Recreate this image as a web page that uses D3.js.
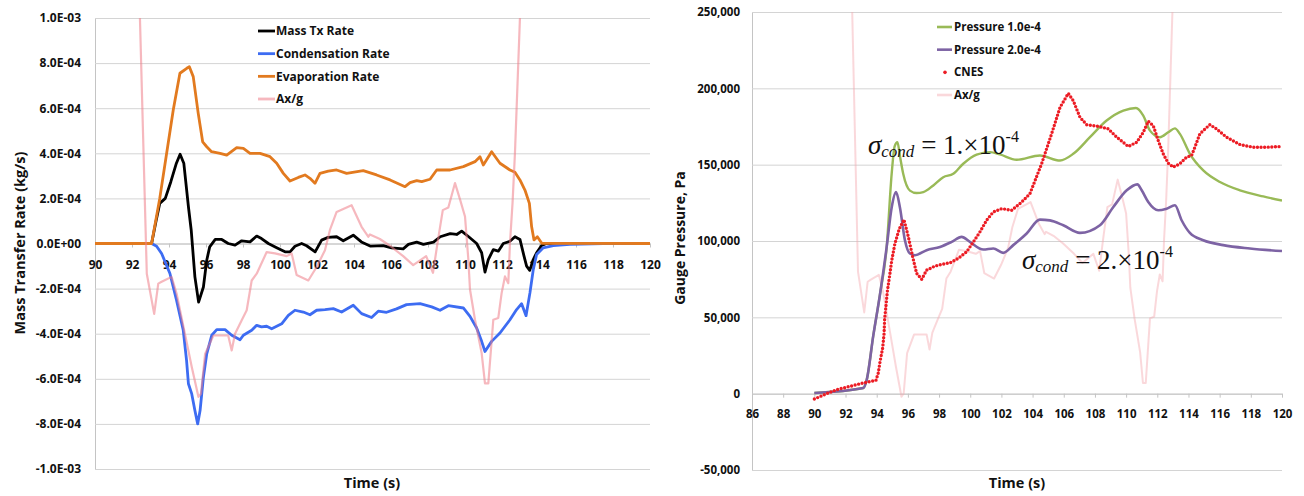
<!DOCTYPE html>
<html>
<head>
<meta charset="utf-8">
<script src="https://cdn.jsdelivr.net/npm/d3@7"></script>
<style>
  html, body { margin: 0; padding: 0; background: #fff; }
  svg { display: block; }
  .lbl text, text.lbl { font-family: "Open Sans", "DejaVu Sans", sans-serif; font-weight: 700; fill: #111; }
  .ann { font-family: "Liberation Serif", "DejaVu Serif", serif; fill: #111; }
</style>
</head>
<body>
<svg id="chart" width="1304" height="496"></svg>
<script>
// ---------- Mass transfer panel (values in 1e-4 kg/s) ----------
const RATE_UNIT = 1e-4;
const massTx = [[90,0],[93.06,0],[93.3,1.0],[93.5,1.78],[93.8,2.0],[94.1,2.74],[94.4,3.56],[94.6,3.96],[94.8,3.56],[95.05,1.63],[95.2,0.6],[95.4,-1.48],[95.6,-2.6],[95.86,-1.93],[96.04,-0.74],[96.2,-0.15],[96.5,0.18],[96.85,0.18],[97.2,0],[97.57,-0.07],[97.93,0.12],[98.38,0.07],[98.74,0.33],[99.0,0.22],[99.37,0],[99.82,-0.19],[100.27,-0.37],[100.54,-0.37],[100.81,-0.12],[101.17,0],[101.44,-0.1],[101.9,-0.37],[102.25,0.15],[102.6,0.27],[103.06,0.3],[103.42,0.12],[103.96,0.37],[104.4,0.07],[104.9,-0.12],[105.58,-0.09],[106.03,-0.19],[106.66,-0.24],[106.94,-0.04],[107.39,0.06],[107.75,-0.04],[108.3,0.06],[108.66,0.3],[109.2,0.44],[109.55,0.4],[109.82,0.55],[110.2,0.3],[110.63,0],[110.9,-0.41],[111.08,-1.27],[111.26,-0.71],[111.53,-0.27],[111.8,-0.34],[112.07,0],[112.43,0.1],[112.7,0.3],[112.97,0.18],[113.19,-0.56],[113.33,-1.0],[113.5,-1.19],[113.69,-0.71],[113.87,-0.41],[114.14,-0.09],[114.4,0],[120,0]];

const condensation = [[90,0],[93.06,0],[93.33,-0.12],[93.6,-0.44],[94.05,-1.33],[94.41,-2.52],[94.77,-3.85],[94.95,-5.19],[95.05,-6.22],[95.23,-6.67],[95.4,-7.41],[95.55,-8.0],[95.68,-7.41],[95.86,-5.93],[96.04,-4.89],[96.31,-4.07],[96.58,-3.82],[97.03,-3.82],[97.39,-4.07],[97.84,-4.27],[98.02,-4.07],[98.47,-3.85],[98.74,-3.63],[99.0,-3.7],[99.28,-3.67],[99.55,-3.78],[100.09,-3.56],[100.45,-3.19],[100.81,-2.96],[101.26,-3.04],[101.62,-3.16],[101.98,-2.96],[102.43,-2.93],[102.88,-2.89],[103.33,-3.04],[103.96,-2.74],[104.41,-3.11],[104.95,-3.28],[105.31,-3.0],[105.76,-3.05],[106.3,-2.9],[106.84,-2.71],[107.57,-2.67],[108.2,-2.81],[108.65,-2.96],[109.1,-2.76],[109.91,-2.86],[110.27,-3.23],[110.63,-3.75],[110.9,-4.34],[111.08,-4.79],[111.44,-4.34],[111.89,-3.97],[112.43,-3.38],[112.79,-2.93],[113.06,-2.67],[113.3,-3.2],[113.51,-2.19],[113.69,-1.16],[113.87,-0.49],[114.23,-0.19],[114.77,-0.09],[115.67,-0.04],[117.47,-0.01],[120,0]];

const evaporation = [[90,0],[93.06,0],[93.5,2.0],[93.78,3.5],[94.23,5.92],[94.59,7.55],[94.96,7.77],[95.1,7.84],[95.31,7.4],[95.58,5.77],[95.82,4.51],[96.04,4.29],[96.3,4.07],[96.76,4.0],[97.12,3.92],[97.66,4.25],[98.02,4.22],[98.38,4.0],[98.92,4.0],[99.46,3.85],[99.82,3.56],[100.18,3.11],[100.54,2.77],[100.99,2.93],[101.35,3.04],[101.62,2.89],[101.89,2.67],[102.16,3.11],[102.61,3.21],[103.06,3.26],[103.6,3.11],[104.5,3.23],[105.22,3.04],[105.95,2.82],[106.76,2.52],[107.03,2.7],[107.39,2.79],[107.66,2.74],[108.11,2.85],[108.47,3.26],[109.19,3.26],[109.91,3.41],[110.54,3.63],[110.81,3.85],[110.99,3.48],[111.44,4.07],[111.89,3.56],[112.43,3.26],[112.7,3.16],[112.97,2.82],[113.24,2.37],[113.48,1.78],[113.6,0.75],[113.73,0.16],[113.91,0.3],[114.15,0.01],[120,0]];

// Axial acceleration (g), shared by both panels on their secondary axes
const axG = [[92.2,0.85],[92.8,-0.067],[93.2,-0.156],[93.42,-0.089],[93.6,-0.085],[94.14,-0.074],[94.41,-0.111],[94.86,-0.2],[95.23,-0.274],[95.59,-0.34],[95.73,-0.333],[95.95,-0.245],[96.4,-0.204],[97.2,-0.204],[97.39,-0.237],[97.57,-0.2],[97.93,-0.17],[98.2,-0.148],[98.47,-0.082],[98.74,-0.067],[99.28,-0.019],[99.73,-0.022],[100.36,-0.028],[100.63,-0.022],[100.9,-0.07],[101.53,-0.082],[101.98,-0.052],[102.43,-0.015],[102.7,0.03],[103.06,0.07],[103.87,0.085],[104.41,0.037],[104.77,0.015],[104.86,0.02],[105.4,0.01],[105.94,-0.005],[106.66,-0.028],[107.2,-0.048],[107.9,-0.028],[108.27,-0.065],[108.54,0.008],[108.8,0.074],[109.1,0.08],[109.46,0.134],[109.73,0.098],[110.0,0.06],[110.18,-0.035],[110.27,-0.102],[110.54,-0.169],[110.9,-0.243],[111.08,-0.31],[111.26,-0.31],[111.53,-0.169],[111.8,-0.165],[111.98,-0.11],[112.16,-0.073],[112.34,-0.088],[112.43,0],[112.57,0.09],[112.7,0.2],[112.97,0.5],[113.1,0.75]];

const rateTicks = [-1e-3,-8e-4,-6e-4,-4e-4,-2e-4,0,2e-4,4e-4,6e-4,8e-4,1e-3];
const rateTickLabels = ["-1.0E-03","-8.0E-04","-6.0E-04","-4.0E-04","-2.0E-04","0.0E+00","2.0E-04","4.0E-04","6.0E-04","8.0E-04","1.0E-03"];
const timeTicksLeft = [90,92,94,96,98,100,102,104,106,108,110,112,114,116,118,120];
const axTicksLeft = [-0.5,-0.4,-0.3,-0.2,-0.1,0,0.1,0.2,0.3,0.4,0.5];
const axTickLabelsLeft = ["-0.5","-0.4","-0.3","-0.2","-0.1","0","0.1","0.2","0.3","0.4","0.5"];

// ---------- Pressure panel (Pa) ----------
const pressure1 = [[90,400],[93.14,3700],[93.36,9100],[93.78,38000],[94.21,65000],[94.64,96000],[94.96,144000],[95.15,162000],[95.33,164700],[95.5,155000],[95.7,144000],[96.13,133000],[96.56,131400],[96.99,132000],[97.63,136400],[98.27,141800],[98.91,144000],[99.55,150600],[100.41,156600],[101.27,158200],[101.9,156700],[102.98,153200],[104.47,156000],[105.76,152700],[106.61,157100],[107.68,168000],[108.75,178900],[109.82,185400],[110.63,187100],[111.1,182100],[111.53,172300],[112.17,168000],[112.7,171200],[113.13,173800],[113.45,170200],[114.09,157100],[114.95,146200],[116.02,138600],[117.3,133200],[118.8,129200],[120,126500]];

const pressure2 = [[90,400],[93.14,3700],[93.36,9100],[93.78,38000],[94.21,65000],[94.64,96100],[94.96,122000],[95.24,132000],[95.49,122000],[95.81,100500],[96.13,91800],[96.46,90700],[97.2,94000],[98.06,96100],[98.81,99400],[99.45,102700],[99.98,99400],[100.84,94400],[101.48,95100],[102.12,92200],[102.76,97300],[103.62,104900],[104.47,114000],[105.11,113500],[105.97,110300],[107.04,105300],[108.32,110300],[109.18,122300],[110.04,133200],[110.72,137100],[111.0,133200],[111.42,125500],[112.06,120100],[112.6,121200],[113.13,123400],[113.56,113600],[114.09,105300],[114.95,100500],[116.23,97300],[117.94,95100],[120,93400]];

const cnes = [[90,-3500],[90.79,0],[91.43,2600],[92.29,4800],[93.14,7000],[93.95,8700],[94.1,13500],[94.21,20700],[94.38,29800],[94.47,39000],[94.51,49000],[94.6,58000],[94.68,66800],[94.85,78800],[94.96,87000],[95.17,98400],[95.45,108000],[95.75,114000],[96.03,102700],[96.31,89600],[96.56,78800],[96.89,74900],[97.2,80900],[97.74,83600],[98.27,84900],[98.7,85700],[99.23,88600],[99.77,92900],[100.2,99400],[100.62,105900],[101.05,113600],[101.48,119000],[102.02,121200],[102.66,120100],[103.3,125500],[103.83,131000],[104.58,150600],[105.22,170200],[105.76,187500],[106.29,196700],[106.61,191900],[107.04,181000],[107.47,176200],[108.32,174900],[108.86,173400],[109.4,168000],[110.14,161900],[110.68,164700],[111.1,171200],[111.42,178400],[111.74,175600],[112.06,165800],[112.38,157100],[112.7,151000],[113.02,148400],[113.45,150600],[113.88,154900],[114.2,156000],[114.41,161400],[114.73,170200],[115.37,176200],[115.8,173400],[116.44,168000],[117.3,163200],[118.15,161400],[119.0,161400],[120,161900]];

const pressureTicks = [-50000,0,50000,100000,150000,200000,250000];
const pressureTickLabels = ["-50,000","0","50,000","100,000","150,000","200,000","250,000"];
const timeTicksRight = [86,88,90,92,94,96,98,100,102,104,106,108,110,112,114,116,118,120];
const axTicksRight = [-0.5,-0.25,0,0.25,0.5];
const axTickLabelsRight = ["-0.5","-0.25","0","0.25","0.5"];

const svg = d3.select("#chart");
const GRID = "#d4d4d4", AXIS = "#c4c4c4";

function styleAxis(g, size) {
  g.attr("class", "lbl");
  g.selectAll("text").style("font-size", size || "11.5px");
}
// the panels are trimmed at their right edge: only the leading character of
// each secondary-axis label remains, and it is cut down the middle
const leadChar = labels => (d, i) => labels[i].charAt(0);

// =================== LEFT PANEL ===================
const xL = d3.scaleLinear().domain([90, 120]).range([95, 650]);
const yL = d3.scaleLinear().domain([-1e-3, 1e-3]).range([469, 18]);
const yLax = d3.scaleLinear().domain([-0.5, 0.5]).range([469, 18]);

// horizontal gridlines + left tick labels
svg.append("g")
  .attr("transform", `translate(${xL.range()[0]},0)`)
  .call(d3.axisLeft(yL).tickValues(rateTicks)
    .tickFormat((d, i) => rateTickLabels[i])
    .tickSize(-(xL.range()[1] - xL.range()[0])).tickPadding(14))
  .call(g => { styleAxis(g, "12px"); g.select(".domain").attr("stroke", AXIS);
               g.selectAll(".tick line").attr("stroke", GRID); });

// right border / secondary axis
svg.append("clipPath").attr("id", "clipAxL").append("rect")
  .attr("x", 650).attr("y", 0).attr("width", 12).attr("height", 496);
svg.append("g")
  .attr("transform", `translate(${xL.range()[1]},0)`)
  .attr("clip-path", "url(#clipAxL)")
  .call(d3.axisRight(yLax).tickValues(axTicksLeft)
    .tickFormat(leadChar(axTickLabelsLeft)).tickSize(0).tickPadding(7))
  .call(g => { styleAxis(g, "12px"); g.select(".domain").attr("stroke", AXIS); });

// time axis on the zero line
svg.append("g")
  .attr("transform", `translate(0,${yL(0)})`)
  .call(d3.axisBottom(xL).tickValues(timeTicksLeft).tickSizeInner(4).tickSizeOuter(0).tickPadding(13))
  .call(g => { styleAxis(g, "12px"); g.select(".domain").attr("stroke", AXIS);
               g.selectAll(".tick line").attr("stroke", AXIS); });

svg.append("text").attr("class", "lbl")
  .attr("transform", "translate(25,243) rotate(-90)")
  .attr("text-anchor", "middle").style("font-size", "14.5px")
  .text("Mass Transfer Rate (kg/s)");
svg.append("text").attr("class", "lbl")
  .attr("x", 372).attr("y", 488).attr("text-anchor", "middle").style("font-size", "14.5px")
  .text("Time (s)");

svg.append("clipPath").attr("id", "clipL").append("rect")
  .attr("x", 95).attr("y", 18).attr("width", 555).attr("height", 451);
const plotL = svg.append("g").attr("clip-path", "url(#clipL)");

const lineRate = d3.line().x(d => xL(d[0])).y(d => yL(d[1] * RATE_UNIT));
const lineAxL = d3.line().x(d => xL(d[0])).y(d => yLax(d[1]));

const leftSeries = [
  { name: "Mass Tx Rate", data: massTx, color: "#000000", w: 2.8 },
  { name: "Condensation Rate", data: condensation, color: "#3d6cf2", w: 2.8 },
  { name: "Evaporation Rate", data: evaporation, color: "#e27a1f", w: 2.8 }
];
leftSeries.forEach(s => {
  plotL.append("path").datum(s.data)
    .attr("d", lineRate).attr("fill", "none")
    .attr("stroke", s.color).attr("stroke-width", s.w)
    .attr("stroke-linejoin", "round");
});
plotL.append("path").datum(axG)
  .attr("d", lineAxL).attr("fill", "none")
  .attr("stroke", "#ef7d88").attr("stroke-opacity", 0.55).attr("stroke-width", 2.2)
  .attr("stroke-linejoin", "round");

// legend
const legL = [
  { name: "Mass Tx Rate", color: "#000000", op: 1 },
  { name: "Condensation Rate", color: "#3d6cf2", op: 1 },
  { name: "Evaporation Rate", color: "#e27a1f", op: 1 },
  { name: "Ax/g", color: "#ef7d88", op: 0.55 }
];
const legLy = d3.scalePoint().domain(legL.map(d => d.name)).range([31, 99]);
legL.forEach(d => {
  svg.append("line").attr("x1", 258).attr("x2", 275)
    .attr("y1", legLy(d.name)).attr("y2", legLy(d.name))
    .attr("stroke", d.color).attr("stroke-opacity", d.op).attr("stroke-width", 2.8);
  svg.append("text").attr("class", "lbl").attr("x", 276).attr("y", legLy(d.name))
    .attr("dy", "0.35em").style("font-size", "12px").text(d.name);
});

// =================== RIGHT PANEL ===================
const xR = d3.scaleLinear().domain([86, 120]).range([752, 1282]);
const yR = d3.scaleLinear().domain([-50000, 250000]).range([470, 12]);
const yRax = d3.scaleLinear().domain([-0.5, 0.5]).range([470, 12]);

svg.append("g")
  .attr("transform", `translate(${xR.range()[0]},0)`)
  .call(d3.axisLeft(yR).tickValues(pressureTicks)
    .tickFormat((d, i) => pressureTickLabels[i])
    .tickSize(-(xR.range()[1] - xR.range()[0])).tickPadding(12))
  .call(g => { styleAxis(g); g.select(".domain").attr("stroke", AXIS);
               g.selectAll(".tick line").attr("stroke", GRID); });

svg.append("clipPath").attr("id", "clipAxR").append("rect")
  .attr("x", 1282).attr("y", 0).attr("width", 13).attr("height", 496);
svg.append("g")
  .attr("transform", `translate(${xR.range()[1]},0)`)
  .attr("clip-path", "url(#clipAxR)")
  .call(d3.axisRight(yRax).tickValues(axTicksRight)
    .tickFormat(leadChar(axTickLabelsRight)).tickSize(3).tickPadding(6))
  .call(g => { styleAxis(g); g.select(".domain").attr("stroke", AXIS);
               g.selectAll(".tick line").attr("stroke", AXIS); });

svg.append("g")
  .attr("transform", `translate(0,${yR(0)})`)
  .call(d3.axisBottom(xR).tickValues(timeTicksRight).tickSizeInner(4).tickSizeOuter(0).tickPadding(12))
  .call(g => { styleAxis(g); g.select(".domain").attr("stroke", AXIS);
               g.selectAll(".tick line").attr("stroke", AXIS); });

svg.append("text").attr("class", "lbl")
  .attr("transform", "translate(685,238) rotate(-90)")
  .attr("text-anchor", "middle").style("font-size", "14px")
  .text("Gauge Pressure, Pa");
svg.append("text").attr("class", "lbl")
  .attr("x", 1017).attr("y", 488).attr("text-anchor", "middle").style("font-size", "14.5px")
  .text("Time (s)");

svg.append("clipPath").attr("id", "clipR").append("rect")
  .attr("x", 752).attr("y", 12).attr("width", 530).attr("height", 458);
const plotR = svg.append("g").attr("clip-path", "url(#clipR)");

const lineAxR = d3.line().x(d => xR(d[0])).y(d => yRax(d[1]));
const linePa = d3.line().x(d => xR(d[0])).y(d => yR(d[1])).curve(d3.curveMonotoneX);
const linePaRaw = d3.line().x(d => xR(d[0])).y(d => yR(d[1]));

plotR.append("path").datum(axG).attr("d", lineAxR).attr("fill", "none")
  .attr("stroke", "#f3a9b0").attr("stroke-opacity", 0.45).attr("stroke-width", 2)
  .attr("stroke-linejoin", "round");
plotR.append("path").datum(pressure1).attr("d", linePa).attr("fill", "none")
  .attr("stroke", "#99ba57").attr("stroke-width", 2.4);
plotR.append("path").datum(pressure2).attr("d", linePa).attr("fill", "none")
  .attr("stroke", "#7d63a4").attr("stroke-width", 2.6);
plotR.append("path").datum(cnes).attr("d", linePaRaw).attr("fill", "none")
  .attr("stroke", "#ec1c24").attr("stroke-width", 3.4)
  .attr("stroke-linecap", "round").attr("stroke-dasharray", "0 3.6");

// legend
const legR = [
  { name: "Pressure 1.0e-4", color: "#99ba57", kind: "line", op: 1 },
  { name: "Pressure 2.0e-4", color: "#7d63a4", kind: "line", op: 1 },
  { name: "CNES", color: "#ec1c24", kind: "dot", op: 1 },
  { name: "Ax/g", color: "#f3a9b0", kind: "line", op: 0.45 }
];
const legRy = d3.scalePoint().domain(legR.map(d => d.name)).range([27, 95]);
legR.forEach(d => {
  const y = legRy(d.name);
  if (d.kind === "line") {
    svg.append("line").attr("x1", 937).attr("x2", 952).attr("y1", y).attr("y2", y)
      .attr("stroke", d.color).attr("stroke-opacity", d.op).attr("stroke-width", 2.6);
  } else {
    svg.append("circle").attr("cx", 945).attr("cy", y).attr("r", 1.8).attr("fill", d.color);
  }
  svg.append("text").attr("class", "lbl").attr("x", 954).attr("y", y)
    .attr("dy", "0.35em").style("font-size", "11.5px").text(d.name);
});

// condensation coefficient annotations
function sigmaLabel(x, y, value) {
  const t = svg.append("text").attr("class", "ann").attr("x", x).attr("y", y).style("font-size", "27px");
  t.append("tspan").style("font-style", "italic").text("σ");
  t.append("tspan").style("font-style", "italic").style("font-size", "17px").attr("dy", 3).text("cond");
  t.append("tspan").attr("dy", -3).text(` = ${value}.×10`);
  t.append("tspan").style("font-size", "16px").attr("dy", -12).text("-4");
}
sigmaLabel(868, 154, 1);
sigmaLabel(1022, 269, 2);
</script>
</body>
</html>
